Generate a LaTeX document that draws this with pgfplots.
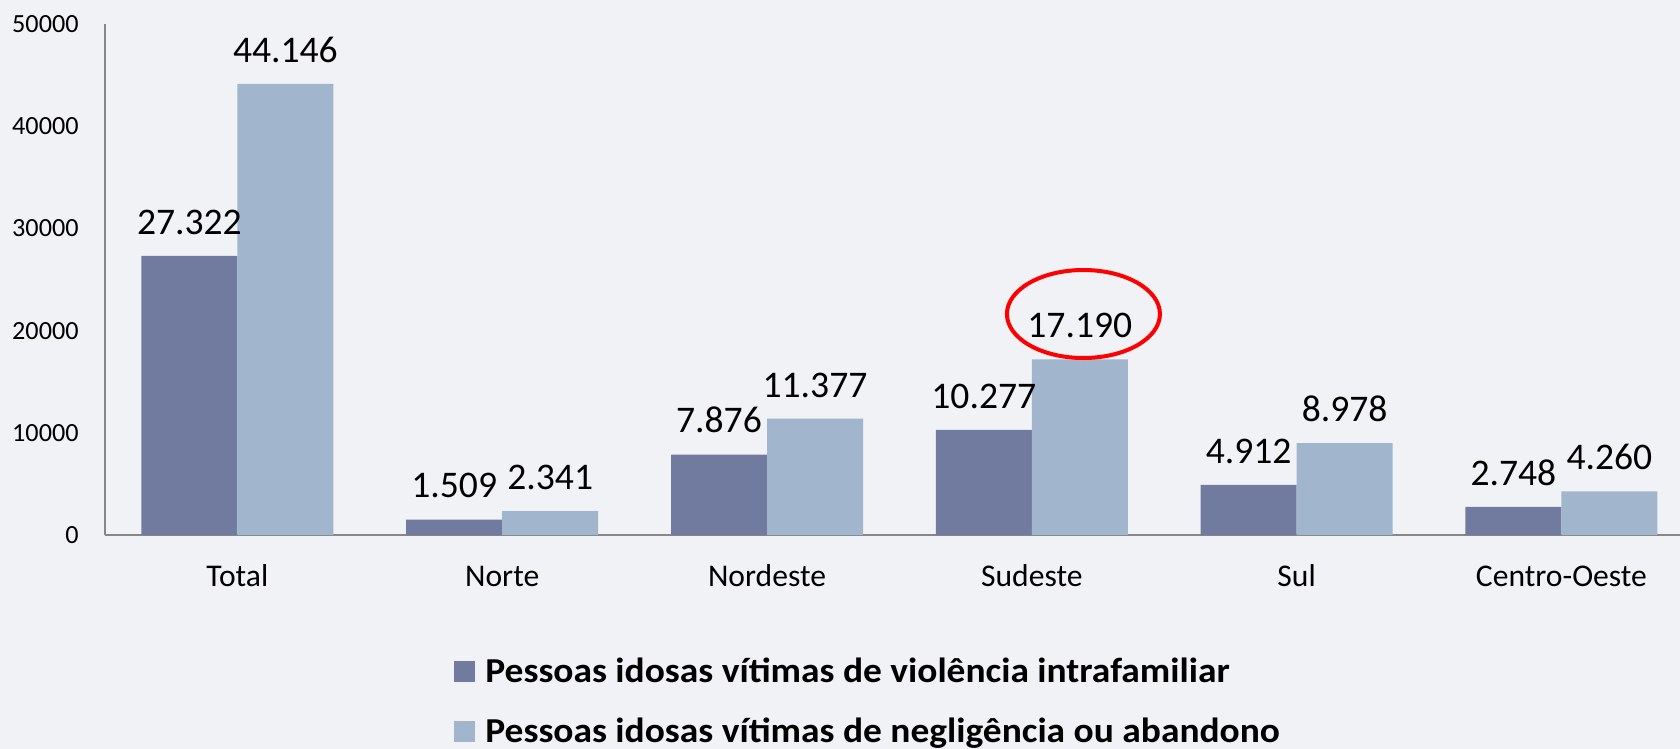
\documentclass[border=0pt]{standalone}
\usepackage{fontspec}
\setmainfont{Carlito}
\usepackage{pgfplots}
\pgfplotsset{compat=1.18}
\definecolor{bgcol}{HTML}{F1F2F5}
\definecolor{darkbar}{HTML}{717BA0}
\definecolor{lightbar}{HTML}{A1B6CD}
\definecolor{axcol}{HTML}{878787}
\begin{document}
\begin{tikzpicture}
\useasboundingbox (-52.5bp,-107bp) rectangle (787.5bp,267.5bp);
\clip (-52.5bp,-107bp) rectangle (787.5bp,267.5bp);
\fill[bgcol] (-52.5bp,-107bp) rectangle (787.5bp,267.5bp);
\begin{axis}[
  at={(0,0)}, anchor=south west,
  scale only axis,
  width=794.4bp, height=255.5bp,
  ybar=0pt, bar width=48bp,
  xmin=-0.5, xmax=5.5, ymin=0, ymax=50000,
  xtick={0,1,2,3,4,5},
  xticklabels={Total,Norte,Nordeste,Sudeste,Sul,Centro-Oeste},
  ytick={0,10000,20000,30000,40000,50000},
  scaled y ticks=false,
  major tick length=0pt,
  axis x line*=bottom, axis y line*=left,
  axis line style={draw=axcol, line width=1.2bp, -},
  clip=false,
  /pgf/number format/assume math mode=true,
  yticklabel style={font=\fontsize{13.1bp}{15bp}\selectfont, inner sep=0pt, anchor=east, xshift=-13bp,
    /pgf/number format/.cd, fixed, precision=0, 1000 sep={}},
  xticklabel style={font=\fontsize{15.8bp}{18bp}\selectfont, inner sep=0pt, anchor=base, yshift=-25.85bp},
  nodes near coords,
  nodes near coords style={font=\fontsize{18.8bp}{21bp}\selectfont, inner sep=0pt, anchor=base, yshift=10.8bp,
    /pgf/number format/.cd, fixed, precision=0, 1000 sep={.}, assume math mode=true},
]
\addplot[fill=darkbar, draw=none] coordinates {(0,27322) (1,1509) (2,7876) (3,10277) (4,4912) (5,2748)};
\addplot[fill=lightbar, draw=none] coordinates {(0,44146) (1,2341) (2,11377) (3,17190) (4,8978) (5,4260)};
\draw[red, line width=2bp] (axis cs:3.195,21624) ellipse [x radius=38.25bp, y radius=22bp];
\end{axis}
% legend
\fill[darkbar] (174.5bp,-73.35bp) rectangle (185bp,-62.85bp);
\node[anchor=base west, inner sep=0pt, font=\fontsize{17.5bp}{20bp}\selectfont\bfseries] at (190bp,-73.85bp) {\scalebox{1.07}[1]{Pessoas idosas vítimas de violência intrafamiliar}};
\fill[lightbar] (174.5bp,-103.35bp) rectangle (185bp,-92.85bp);
\node[anchor=base west, inner sep=0pt, font=\fontsize{17.5bp}{20bp}\selectfont\bfseries] at (190bp,-103.85bp) {\scalebox{1.07}[1]{Pessoas idosas vítimas de negligência ou abandono}};
\end{tikzpicture}
\end{document}
